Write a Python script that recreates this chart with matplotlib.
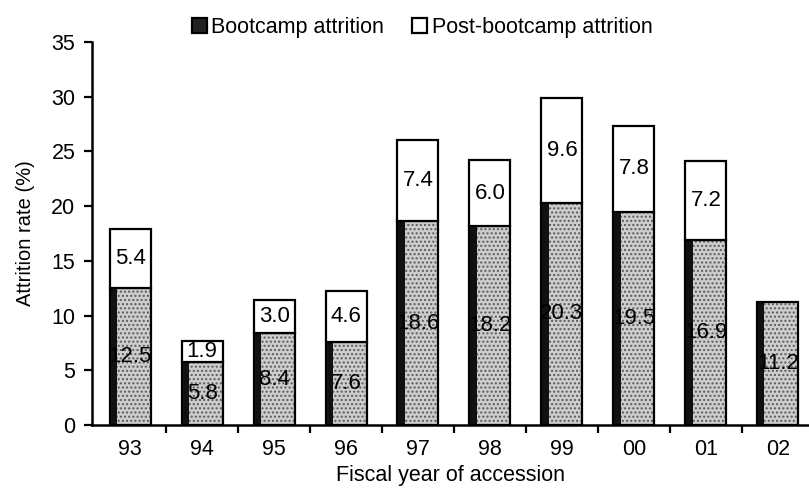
import matplotlib
matplotlib.use('Agg')
import matplotlib.pyplot as plt
import numpy as np

plt.rcParams['font.family'] = ['Liberation Sans', 'DejaVu Sans']
plt.rcParams['hatch.linewidth'] = 1.0

years = ['93', '94', '95', '96', '97', '98', '99', '00', '01', '02']
bootcamp = [12.5, 5.8, 8.4, 7.6, 18.6, 18.2, 20.3, 19.5, 16.9, 11.2]
post_bootcamp = [5.4, 1.9, 3.0, 4.6, 7.4, 6.0, 9.6, 7.8, 7.2, 0.0]

x = np.arange(len(years))
w = 0.57

fig = plt.figure(figsize=(8.09, 4.97), dpi=100)
ax = fig.add_axes([0.1137, 0.1449, 0.886, 0.7706])

# stippled bootcamp segment with dark left edge
ax.bar(x, bootcamp, w, color='#cdcdcd', edgecolor='#5a5a5a', hatch='....', linewidth=0, zorder=2)
ax.bar(x - w / 2, bootcamp, 0.1, align='edge', color='#111111', linewidth=0, zorder=3)
b1 = ax.bar(x, bootcamp, w, fill=False, edgecolor='black', linewidth=1.6, zorder=4)

has_post = [p > 0 for p in post_bootcamp]
b2 = ax.bar(x[has_post], np.array(post_bootcamp)[has_post], w,
            bottom=np.array(bootcamp)[has_post],
            color='white', edgecolor='black', linewidth=1.6, zorder=4)

for i in range(len(years)):
    ax.text(x[i], bootcamp[i] / 2, f'{bootcamp[i]:.1f}', ha='center', va='center',
            fontsize=16, zorder=5)
    if post_bootcamp[i] > 0:
        ax.text(x[i], bootcamp[i] + post_bootcamp[i] / 2, f'{post_bootcamp[i]:.1f}',
                ha='center', va='center', fontsize=16, zorder=5)

ax.set_xlim(-0.53, 9.43)
ax.set_ylim(0, 35)
ax.set_yticks(range(0, 36, 5))
ax.set_xticks(x)
ax.set_xticklabels(years)
ax.set_xticks(np.arange(0.5, 9, 1), minor=True)
ax.tick_params(axis='x', which='major', length=0, pad=10, labelsize=15.5)
ax.tick_params(axis='x', which='minor', length=6, width=1.6, direction='out')
ax.tick_params(axis='y', length=6, width=1.6, direction='out', labelsize=15.5, pad=6)

for s in ['top', 'right']:
    ax.spines[s].set_visible(False)
ax.spines['left'].set_linewidth(1.8)
ax.spines['bottom'].set_linewidth(1.8)

ax.set_ylabel('Attrition rate (%)', fontsize=14.5, labelpad=12)
ax.set_xlabel('Fiscal year of accession', fontsize=15.5, labelpad=4)

fig.legend([b1, b2], ['Bootcamp attrition', 'Post-bootcamp attrition'],
           loc='upper center', bbox_to_anchor=(0.522, 1.005), ncol=2, frameon=False,
           fontsize=15.5, handlelength=0.7, handleheight=0.7, handletextpad=0.2,
           columnspacing=1.3)
# make the bootcamp legend square dark like the reference
leg = fig.legends[0]
leg.legend_handles[0].set_facecolor('#222222')
leg.legend_handles[0].set_fill(True)

fig.savefig('out.png', dpi=100)
